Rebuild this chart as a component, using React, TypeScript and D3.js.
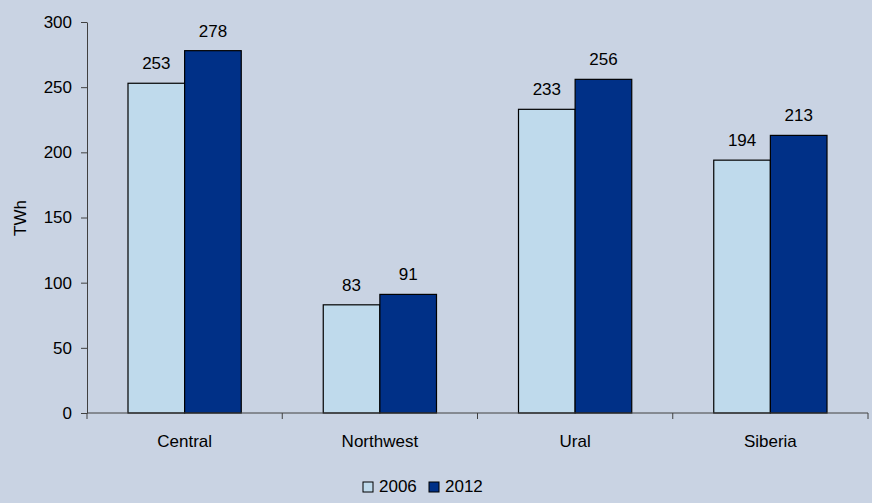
import React, { useEffect, useRef } from "react";
import * as d3 from "d3";

const regions = ["Central", "Northwest", "Ural", "Siberia"];
const years = ["2006", "2012"];
const values2006 = [253, 83, 233, 194];
const values2012 = [278, 91, 256, 213];
const yTicks = [0, 50, 100, 150, 200, 250, 300];
const colors = ["#BFDAEC", "#003087"];

export default function App() {
  const ref = useRef<SVGSVGElement>(null);

  useEffect(() => {
    const svg = d3.select(ref.current);
    svg.selectAll("*").remove();

    const width = 872;
    const height = 503;
    const margin = { top: 22, right: 4, bottom: 90, left: 87 };
    const font = "Liberation Sans, Arial, sans-serif";

    svg.append("rect").attr("width", width).attr("height", height).attr("fill", "#C9D3E3");

    const x0 = d3
      .scaleBand()
      .domain(regions)
      .range([margin.left, width - margin.right]);

    const x1 = d3
      .scaleBand()
      .domain(years)
      .range([41, x0.bandwidth() - 41]);

    const y = d3
      .scaleLinear()
      .domain([0, 300])
      .range([height - margin.bottom, margin.top]);

    const data = regions.map((r, i) => ({
      region: r,
      vals: [
        { year: years[0], v: values2006[i] },
        { year: years[1], v: values2012[i] },
      ],
    }));

    // y axis
    const yAxis = svg
      .append("g")
      .attr("transform", `translate(${margin.left},0)`)
      .call(d3.axisLeft(y).tickValues(yTicks).tickSize(6).tickPadding(9).tickSizeOuter(0));
    yAxis.select(".domain").attr("stroke", "#404040");
    yAxis.selectAll(".tick line").attr("stroke", "#404040");
    yAxis
      .selectAll(".tick text")
      .attr("font-family", font)
      .attr("font-size", 17)
      .attr("fill", "#000");

    svg
      .append("text")
      .attr("transform", `translate(26,218) rotate(-90)`)
      .attr("text-anchor", "middle")
      .attr("font-family", font)
      .attr("font-size", 17)
      .text("TWh");

    // bars
    const groups = svg
      .selectAll(".group")
      .data(data)
      .join("g")
      .attr("class", "group")
      .attr("transform", (d) => `translate(${x0(d.region)},0)`);

    groups
      .selectAll("rect")
      .data((d) => d.vals)
      .join("rect")
      .attr("x", (d) => x1(d.year)!)
      .attr("width", x1.bandwidth())
      .attr("y", (d) => y(d.v))
      .attr("height", (d) => y(0) - y(d.v))
      .attr("fill", (d, i) => colors[i])
      .attr("stroke", "#000")
      .attr("stroke-width", 1.2);

    groups
      .selectAll("text.val")
      .data((d) => d.vals)
      .join("text")
      .attr("class", "val")
      .attr("x", (d) => x1(d.year)! + x1.bandwidth() / 2)
      .attr("y", (d) => y(d.v) - 14)
      .attr("text-anchor", "middle")
      .attr("font-family", font)
      .attr("font-size", 17)
      .text((d) => d.v);

    // x axis
    const xg = svg.append("g");
    xg.append("line")
      .attr("x1", margin.left)
      .attr("x2", width - margin.right)
      .attr("y1", y(0))
      .attr("y2", y(0))
      .attr("stroke", "#404040");
    const bounds = regions.map((r) => x0(r)!).concat([width - margin.right]);
    xg.selectAll(".bt")
      .data(bounds)
      .join("line")
      .attr("x1", (d) => d)
      .attr("x2", (d) => d)
      .attr("y1", y(0))
      .attr("y2", y(0) + 6)
      .attr("stroke", "#404040");
    xg.selectAll(".cat")
      .data(regions)
      .join("text")
      .attr("x", (d) => x0(d)! + x0.bandwidth() / 2)
      .attr("y", y(0) + 34)
      .attr("text-anchor", "middle")
      .attr("font-family", font)
      .attr("font-size", 17)
      .text((d) => d);

    // legend
    const legend = svg.append("g").attr("transform", "translate(363,482)");
    const lx = [0, 66];
    years.forEach((yr, i) => {
      legend
        .append("rect")
        .attr("x", lx[i])
        .attr("y", 0)
        .attr("width", 10)
        .attr("height", 10)
        .attr("fill", colors[i])
        .attr("stroke", "#000");
      legend
        .append("text")
        .attr("x", lx[i] + 16)
        .attr("y", 10)
        .attr("font-family", font)
        .attr("font-size", 17)
        .text(yr);
    });
  }, []);

  return (
    <svg
      ref={ref}
      width={872}
      height={503}
      style={{ position: "absolute", left: 0, top: 0, display: "block" }}
    />
  );
}
